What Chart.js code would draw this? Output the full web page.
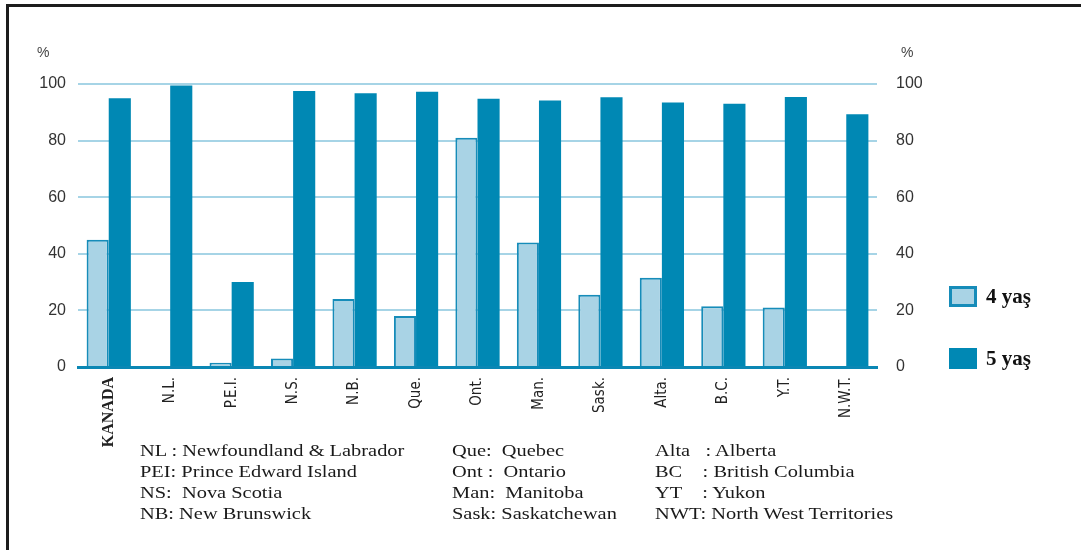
<!DOCTYPE html>
<html>
<head>
<meta charset="utf-8">
<script src="https://cdn.jsdelivr.net/npm/chart.js@4/dist/chart.umd.min.js"></script>
<style>
  html, body { margin: 0; padding: 0; background: #fff; }
  #wrap { position: relative; width: 1081px; height: 550px; overflow: hidden; }
  #frame { position: absolute; left: 6px; top: 4px; width: 1100px; height: 560px; border-top: 3px solid #1c1c1c; border-left: 3px solid #1c1c1c; }
  canvas { position: absolute; left: 0; top: 0; }
  .pct { position: absolute; top: 44px; font: 14px 'Liberation Sans', Arial, sans-serif; color: #444; }
  .leg { position: absolute; left: 949px; display: flex; align-items: center; font: bold 21px 'Liberation Serif', 'Times New Roman', serif; color: #111; }
  .leg .box { width: 28px; height: 21px; box-sizing: border-box; margin-right: 9px; }
  .notes { position: absolute; top: 440px; font: 17px 'Liberation Serif', 'Times New Roman', serif; color: #1a1a1a; line-height: 21px; white-space: pre; transform: scaleX(1.2); transform-origin: left top; }
</style>
</head>
<body>
<div id="wrap">
  <div id="frame"></div>
  <canvas id="ch-kayit" width="1081" height="550"></canvas>
  <div class="pct" style="left:37px;">%</div>
  <div class="pct" style="left:901px;">%</div>
  <div id="legend"></div>
  <div class="notes" style="left:140px;">NL : Newfoundland &amp; Labrador
PEI: Prince Edward Island
NS:  Nova Scotia
NB: New Brunswick</div>
  <div class="notes" style="left:452px;">Que:  Quebec
Ont :  Ontario
Man:  Manitoba
Sask: Saskatchewan</div>
  <div class="notes" style="left:655px;">Alta   : Alberta
BC    : British Columbia
YT    : Yukon
NWT: North West Territories</div>
</div>
<script>
const categories = ['KANADA', 'N.L.', 'P.E.I.', 'N.S.', 'N.B.', 'Que.', 'Ont.', 'Man.', 'Sask.', 'Alta.', 'B.C.', 'Y.T.', 'N.W.T.'];
const age4 = [45, null, 1.5, 3, 24, 18, 81, 44, 25.5, 31.5, 21.5, 21, null];
const age5 = [95, 99.5, 30, 97.5, 96.7, 97.3, 94.8, 94.2, 95.3, 93.5, 93, 95.4, 89.3];
const seriesNames = ['4 yaş', '5 yaş'];
const yTicks = [0, 20, 40, 60, 80, 100];

const lightBlue = '#a9d3e5';
const darkBlue = '#0088b4';
const tickFont = { family: "'Liberation Sans', Arial, sans-serif", size: 16 };

const datasets = [
  { label: seriesNames[0], data: age4, backgroundColor: lightBlue, borderColor: '#168cb9', borderWidth: 2, borderSkipped: 'bottom', yAxisID: 'y' },
  { label: seriesNames[1], data: age5, backgroundColor: darkBlue, borderWidth: 0, yAxisID: 'y' }
];

// legend in html, built from the datasets
document.getElementById('legend').innerHTML = datasets.map((d, i) => `
  <div class="leg" style="top:${i === 0 ? 284 : 346}px;">
    <div class="box" style="background:${d.backgroundColor};${d.borderWidth ? 'border:3px solid ' + d.borderColor + ';' : ''}"></div>${d.label}
  </div>`).join('');

new Chart(document.getElementById('ch-kayit'), {
  type: 'bar',
  data: { labels: categories, datasets },
  options: {
    responsive: false, animation: false,
    layout: { padding: { top: 84, right: 159, bottom: 0, left: 0 } },
    datasets: { bar: { categoryPercentage: 0.72, barPercentage: 1.0 } },
    plugins: { legend: { display: false }, tooltip: { enabled: false } },
    scales: {
      x: {
        grid: { display: false },
        border: { display: true, color: '#0a87b4', width: 3 },
        afterFit: s => { s.height = 183; },
        ticks: {
          minRotation: 90, maxRotation: 90, padding: 2, color: '#222',
          font: c => c.index === 0
            ? { family: "'Liberation Serif', serif", size: 16, weight: 'bold' }
            : { family: "'Liberation Sans Narrow', 'DejaVu Sans Condensed', sans-serif", size: 15 }
        }
      },
      y: {
        position: 'left', min: 0, max: 100,
        afterFit: s => { s.width = 78; },
        afterBuildTicks: s => { s.ticks = yTicks.map(v => ({ value: v })); },
        grid: { color: '#a6d4e6', lineWidth: 2, drawTicks: false },
        border: { display: false },
        ticks: { padding: 12, color: '#333', font: tickFont }
      },
      y1: {
        position: 'right', min: 0, max: 100,
        afterFit: s => { s.width = 45; },
        afterBuildTicks: s => { s.ticks = yTicks.map(v => ({ value: v })); },
        grid: { display: false },
        border: { display: false },
        ticks: { padding: 11, color: '#333', font: tickFont }
      }
    }
  }
});
</script>
</body>
</html>
